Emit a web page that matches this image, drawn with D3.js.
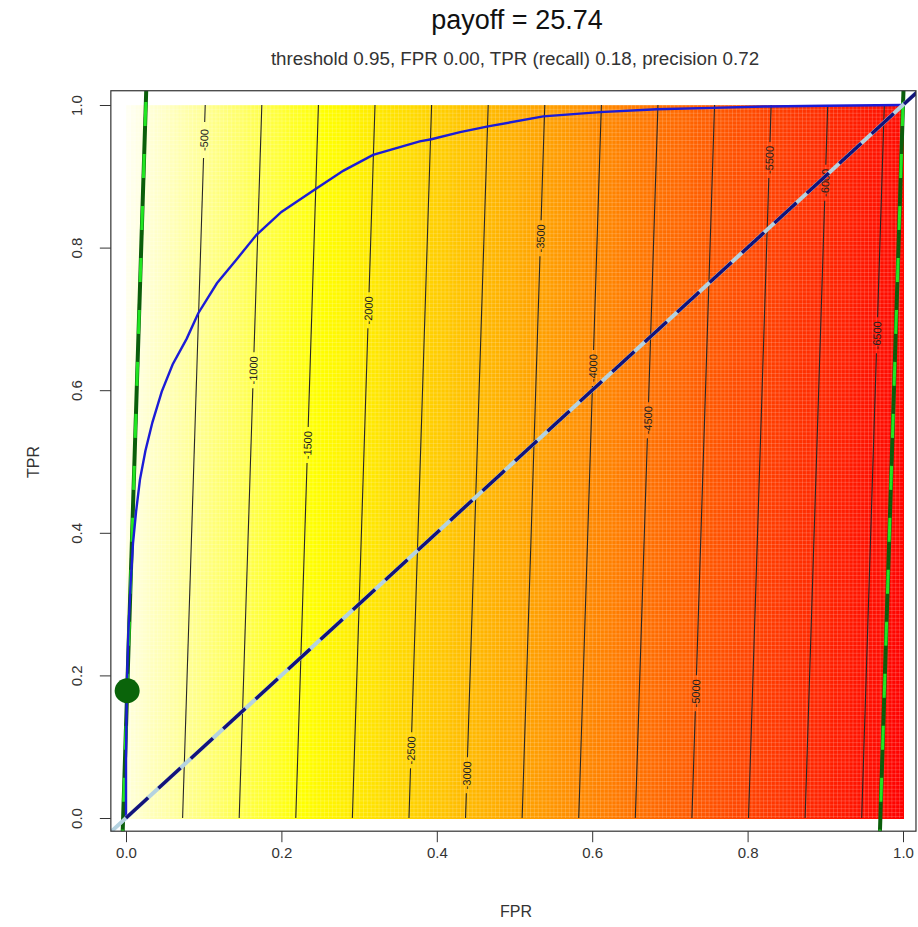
<!DOCTYPE html>
<html>
<head>
<meta charset="utf-8">
<script src="https://cdn.jsdelivr.net/npm/d3@7"></script>
<style>
  body { margin: 0; background: #fff; }
  text { font-family: "Liberation Sans", Arial, sans-serif; }
</style>
</head>
<body>
<svg id="chart" width="918" height="927"></svg>
<script>
// ROC curve
const rocFpr = [0, 0.000, 0.001, 0.003, 0.006, 0.009, 0.013, 0.018, 0.025, 0.034, 0.046, 0.060, 0.078, 0.093, 0.117, 0.142, 0.168, 0.200, 0.245, 0.280, 0.318, 0.378, 0.393, 0.430, 0.466, 0.537, 0.610, 0.683, 0.755, 0.825, 0.900, 1.000];
const rocTpr = [0, 0.080, 0.180, 0.260, 0.330, 0.385, 0.430, 0.475, 0.515, 0.555, 0.598, 0.636, 0.672, 0.708, 0.750, 0.783, 0.818, 0.850, 0.883, 0.908, 0.930, 0.949, 0.952, 0.962, 0.970, 0.984, 0.990, 0.994, 0.996, 0.998, 0.999, 1.000];

// payoff surface: payoff = benefitTpr * TPR - costFpr * FPR
const benefitTpr = 200;
const costFpr = 6865;

// contour levels and where their labels sit (as TPR)
const contourLevels = [-500, -1000, -1500, -2000, -2500, -3000, -3500, -4000, -4500, -5000, -5500, -6000, -6500];
const contourLabelTpr = [0.951, 0.628, 0.523, 0.712, 0.095, 0.060, 0.813, 0.631, 0.558, 0.175, 0.923, 0.891, 0.677];

// selected threshold
const pointFpr = 0.0015;
const pointTpr = 0.1785;

const tickValues = [0, 0.2, 0.4, 0.6, 0.8, 1.0];
const tickLabels = ["0.0", "0.2", "0.4", "0.6", "0.8", "1.0"];

const titleText = "payoff = 25.74";
const subtitleText = "threshold 0.95, FPR 0.00, TPR (recall) 0.18, precision 0.72";

const svg = d3.select("#chart");

const x = d3.scaleLinear().domain([0, 1]).range([126, 903]);
const y = d3.scaleLinear().domain([0, 1]).range([818, 105]);

// plot box (a little wider than [0,1])
const box = { x0: x(-0.0195), x1: x(1.0167), y0: y(1.02), y1: y(-0.0185) };

const payoff = (f, t) => benefitTpr * t - costFpr * f;
const zMax = payoff(0, 1), zMin = payoff(1, 0);

// heat.colors reversed: red -> yellow over 3/4 of range, then yellow -> pale
const color = d3.scaleLinear()
  .domain([zMin, zMin + 0.75 * (zMax - zMin), zMax])
  .range(["#ff0000", "#ffff00", "#fffff6"]);

const defs = svg.append("defs");
defs.append("clipPath").attr("id", "clip")
  .append("rect")
  .attr("x", box.x0).attr("y", box.y0)
  .attr("width", box.x1 - box.x0).attr("height", box.y1 - box.y0);

const cellW = (x(1) - x(0)) / 200;
const pat = defs.append("pattern").attr("id", "grid")
  .attr("patternUnits", "userSpaceOnUse")
  .attr("x", x(0)).attr("y", y(1))
  .attr("width", cellW).attr("height", cellW);
pat.append("path")
  .attr("d", `M0,0.3H${cellW}M0.3,0V${cellW}`)
  .attr("stroke", "#fff").attr("stroke-opacity", 0.35).attr("stroke-width", 0.6);

// heatmap
const nCols = 160, nRows = 40;
const cells = d3.cross(d3.range(nCols), d3.range(nRows));
svg.append("g")
  .attr("shape-rendering", "crispEdges")
  .selectAll("rect")
  .data(cells)
  .join("rect")
  .attr("x", d => x(d[0] / nCols))
  .attr("y", d => y((d[1] + 1) / nRows))
  .attr("width", x(1 / nCols) - x(0) + 0.6)
  .attr("height", y(0) - y(1 / nRows) + 0.6)
  .attr("fill", d => color(payoff((d[0] + 0.5) / nCols, (d[1] + 0.5) / nRows)));

svg.append("rect")
  .attr("x", x(0)).attr("y", y(1))
  .attr("width", x(1) - x(0)).attr("height", y(0) - y(1))
  .attr("fill", "url(#grid)");

// contours
const contourG = svg.append("g").attr("clip-path", "url(#clip)");
const fprAt = (level, t) => (benefitTpr * t - level) / costFpr;
const gapTpr = 18 / (y(0) - y(1));
const line = d3.line().x(d => x(d[0])).y(d => y(d[1]));

contourLevels.forEach((level, i) => {
  const lt = contourLabelTpr[i];
  const segs = [[0, lt - gapTpr], [lt + gapTpr, 1]];
  segs.forEach(s => {
    contourG.append("path")
      .attr("d", line(s.map(t => [fprAt(level, t), t])))
      .attr("fill", "none")
      .attr("stroke", "#262626")
      .attr("stroke-width", 1.1);
  });
  const dx = x(fprAt(level, 1)) - x(fprAt(level, 0));
  const dy = y(1) - y(0);
  const ang = Math.atan2(dy, dx) * 180 / Math.PI;
  contourG.append("text")
    .attr("transform", `translate(${x(fprAt(level, lt))},${y(lt)}) rotate(${ang})`)
    .attr("text-anchor", "middle")
    .attr("dy", "0.35em")
    .attr("font-size", 11)
    .attr("fill", "#222")
    .text(level);
});

// iso-payoff lines (through the selected point and through (1,1))
const isoG = svg.append("g").attr("clip-path", "url(#clip)");
const isoThrough = (f0, t0) => {
  const tA = -0.05, tB = 1.05;
  return [[f0 + (tA - t0) * benefitTpr / costFpr, tA], [f0 + (tB - t0) * benefitTpr / costFpr, tB]];
};
[isoThrough(pointFpr, pointTpr), isoThrough(1, 1)].forEach(pts => {
  isoG.append("path").attr("d", line(pts))
    .attr("stroke", "#0b5e0b").attr("stroke-width", 4).attr("fill", "none");
  isoG.append("path").attr("d", line(pts))
    .attr("stroke", "#22e622").attr("stroke-width", 3).attr("fill", "none")
    .attr("stroke-dasharray", "24,28");
});

// ROC curve
svg.append("path")
  .datum(rocFpr.map((f, i) => [f, rocTpr[i]]))
  .attr("d", line)
  .attr("fill", "none")
  .attr("stroke", "#1c1cd6")
  .attr("stroke-width", 2.4);

// diagonal
const diagG = svg.append("g").attr("clip-path", "url(#clip)");
diagG.append("path").attr("d", line([[-0.05, -0.05], [1.05, 1.05]]))
  .attr("stroke", "#b4d2e0").attr("stroke-width", 4).attr("fill", "none");
diagG.append("path").attr("d", line([[0, 0], [1.05, 1.05]]))
  .attr("stroke", "#13137a").attr("stroke-width", 3.5).attr("fill", "none")
  .attr("stroke-dasharray", "30,14");

// selected point
svg.append("circle")
  .attr("cx", x(pointFpr)).attr("cy", y(pointTpr)).attr("r", 12.5)
  .attr("fill", "#0a640a");

// frame
svg.append("rect")
  .attr("x", box.x0).attr("y", box.y0)
  .attr("width", box.x1 - box.x0).attr("height", box.y1 - box.y0)
  .attr("fill", "none").attr("stroke", "#333").attr("stroke-width", 1.2);

// axes
const xAxis = svg.append("g")
  .attr("transform", `translate(0,${box.y1})`)
  .call(d3.axisBottom(x).tickValues(tickValues).tickFormat((d, i) => tickLabels[i]).tickSize(11).tickPadding(5).tickSizeOuter(0));
xAxis.select(".domain").remove();
xAxis.selectAll("line").attr("stroke", "#333");
xAxis.selectAll("text").attr("font-size", 15).attr("fill", "#333")
  .style("font-family", "'Liberation Sans', Arial, sans-serif");

const yAxis = svg.append("g")
  .attr("transform", `translate(${box.x0},0)`)
  .call(d3.axisLeft(y).tickValues(tickValues).tickFormat((d, i) => tickLabels[i]).tickSize(11).tickSizeOuter(0));
yAxis.select(".domain").remove();
yAxis.selectAll("line").attr("stroke", "#333");
yAxis.selectAll("text")
  .attr("transform", "rotate(-90)")
  .attr("x", 0).attr("y", -34).attr("dy", "0.35em")
  .attr("text-anchor", "middle")
  .attr("font-size", 15).attr("fill", "#333")
  .style("font-family", "'Liberation Sans', Arial, sans-serif");

svg.append("text")
  .attr("x", 516).attr("y", 917)
  .attr("text-anchor", "middle").attr("font-size", 16).attr("fill", "#333")
  .text("FPR");
svg.append("text")
  .attr("transform", "translate(33,462) rotate(-90)")
  .attr("text-anchor", "middle").attr("dy", "0.35em").attr("font-size", 16).attr("fill", "#333")
  .text("TPR");

// titles
svg.append("text")
  .attr("x", 517).attr("y", 29)
  .attr("text-anchor", "middle").attr("font-size", 27).attr("fill", "#111")
  .text(titleText);
svg.append("text")
  .attr("x", 515).attr("y", 65)
  .attr("text-anchor", "middle").attr("font-size", 18.8).attr("fill", "#333")
  .text(subtitleText);
</script>
</body>
</html>
